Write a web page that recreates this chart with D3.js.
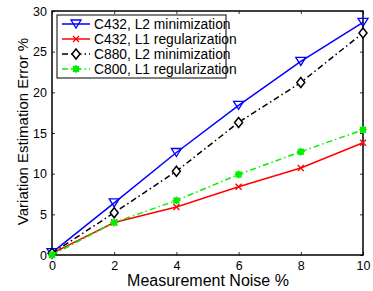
<!DOCTYPE html>
<html>
<head>
<meta charset="utf-8">
<script src="https://cdn.jsdelivr.net/npm/d3@7"></script>
<style>
  body { margin: 0; background: #fff; }
  text { font-family: "Liberation Sans", Arial, sans-serif; fill: #000; }
</style>
</head>
<body>
<svg width="373" height="291"></svg>
<script>
// noise levels (x) and error values per series
const noise = [0, 2, 4, 6, 8, 10]
const c432L2 = [0.3, 6.4, 12.6, 18.4, 23.8, 28.6]
const c432L1 = [0.2, 4.0, 5.9, 8.4, 10.7, 13.8]
const c880L2 = [0.2, 5.2, 10.3, 16.3, 21.2, 27.3]
const c800L1 = [0.0, 4.0, 6.7, 9.9, 12.7, 15.4]
const seriesNames = ["C432, L2 minimization", "C432, L1 regularization", "C880, L2 minimization", "C800, L1 regularization"]
const xTicks = [0, 2, 4, 6, 8, 10]
const yTicks = [0, 5, 10, 15, 20, 25, 30]

const series = [
  {name: seriesNames[0], values: c432L2, color: "#0000ff", dash: null, marker: "tri"},
  {name: seriesNames[1], values: c432L1, color: "#ff0000", dash: null, marker: "x"},
  {name: seriesNames[2], values: c880L2, color: "#000000", dash: "6,3,1.5,3", marker: "diamond"},
  {name: seriesNames[3], values: c800L1, color: "#00ee00", dash: "6,3,1.5,3", marker: "star"}
]

const svg = d3.select("svg")
const mLeft = 52, mRight = 363, mTop = 11, mBottom = 255

const x = d3.scaleLinear().domain([0, 10]).range([mLeft, mRight])
const y = d3.scaleLinear().domain([0, 30]).range([mBottom, mTop])

// axes with inward ticks on all four sides
svg.append("g").attr("transform", `translate(0,${mBottom})`)
  .call(d3.axisBottom(x).tickValues(xTicks).tickSizeInner(-3).tickSizeOuter(0).tickPadding(6))
svg.append("g").attr("transform", `translate(0,${mTop})`)
  .call(d3.axisTop(x).tickValues(xTicks).tickSizeInner(-3).tickSizeOuter(0).tickFormat(""))
svg.append("g").attr("transform", `translate(${mLeft},0)`)
  .call(d3.axisLeft(y).tickValues(yTicks).tickSizeInner(-3).tickSizeOuter(0).tickPadding(5))
svg.append("g").attr("transform", `translate(${mRight},0)`)
  .call(d3.axisRight(y).tickValues(yTicks).tickSizeInner(-3).tickSizeOuter(0).tickFormat(""))

svg.selectAll(".domain").remove()
svg.selectAll(".tick line").attr("stroke", "#000").attr("stroke-width", 0.8)
svg.selectAll(".tick text")
  .attr("font-size", 12.5).attr("fill", "#000")
  .style("font-family", "Liberation Sans, Arial, sans-serif")

svg.append("rect")
  .attr("x", mLeft).attr("y", mTop)
  .attr("width", mRight - mLeft).attr("height", mBottom - mTop)
  .attr("fill", "none").attr("stroke", "#000").attr("stroke-width", 1.5)

function drawMarker(g, type, color) {
  if (type === "tri") {
    g.append("path").attr("d", "M-5,-4L5,-4L0,4Z")
      .attr("fill", "none").attr("stroke", color).attr("stroke-width", 1.3)
  } else if (type === "x") {
    g.append("path").attr("d", "M-3,-3L3,3M-3,3L3,-3")
      .attr("stroke", color).attr("stroke-width", 1.3)
  } else if (type === "diamond") {
    g.append("path").attr("d", "M0,-5L4,0L0,5L-4,0Z")
      .attr("fill", "#fff").attr("stroke", color).attr("stroke-width", 1.5)
  } else {
    g.append("circle").attr("r", 3.2).attr("fill", color)
    g.append("path").attr("d", "M-4,0L4,0M0,-4L0,4M-3,-3L3,3M-3,3L3,-3")
      .attr("stroke", color).attr("stroke-width", 1.2)
  }
}

const line = d3.line().x((d, i) => x(noise[i])).y(d => y(d))

series.forEach(s => {
  svg.append("path").datum(s.values)
    .attr("d", line)
    .attr("fill", "none")
    .attr("stroke", s.color)
    .attr("stroke-width", 1.5)
    .attr("stroke-dasharray", s.dash)
  s.values.forEach((v, i) => {
    const g = svg.append("g").attr("transform", `translate(${x(noise[i])},${y(v)})`)
    drawMarker(g, s.marker, s.color)
  })
})

// legend
const lg = svg.append("g")
lg.append("rect").attr("x", 57).attr("y", 15).attr("width", 169).attr("height", 63)
  .attr("fill", "#fff").attr("stroke", "#000").attr("stroke-width", 1)
series.forEach((s, i) => {
  const yy = 24 + i * 15
  lg.append("line").attr("x1", 62).attr("x2", 90).attr("y1", yy).attr("y2", yy)
    .attr("stroke", s.color).attr("stroke-width", 1.5).attr("stroke-dasharray", s.dash)
  drawMarker(lg.append("g").attr("transform", `translate(76,${yy})`), s.marker, s.color)
  lg.append("text").attr("x", 94).attr("y", yy + 5)
    .attr("font-size", 13.8).text(s.name)
})

svg.append("text")
  .attr("x", 208).attr("y", 286)
  .attr("text-anchor", "middle").attr("font-size", 16)
  .text("Measurement Noise %")

svg.append("text")
  .attr("transform", "translate(28,131.5) rotate(-90)")
  .attr("text-anchor", "middle").attr("font-size", 15)
  .text("Variation Estimation Error %")
</script>
</body>
</html>
